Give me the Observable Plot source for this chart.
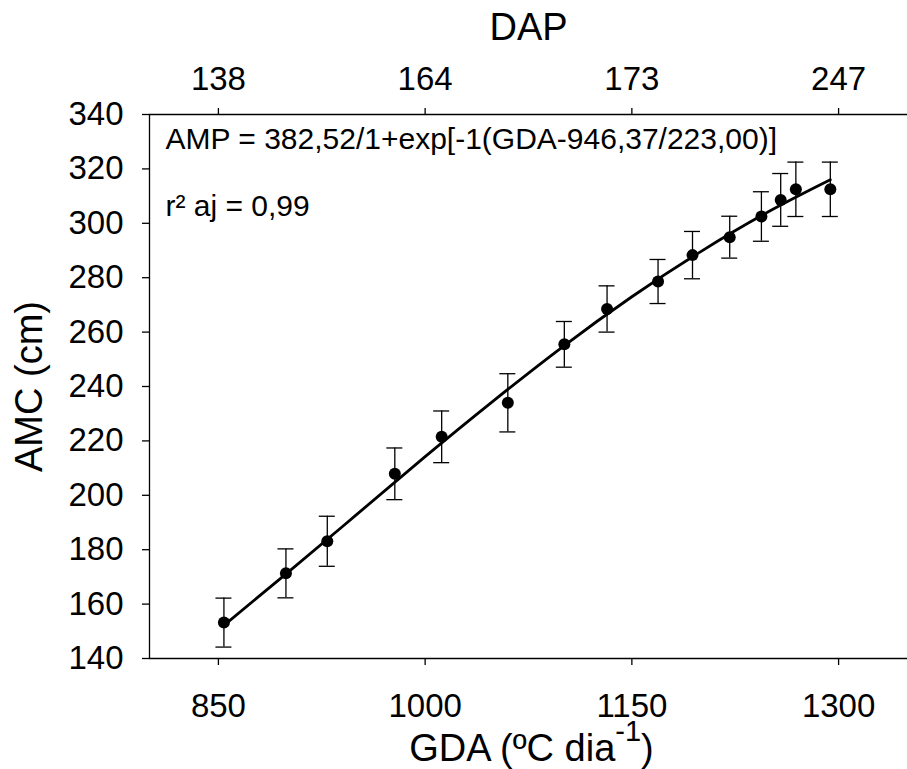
<!DOCTYPE html>
<html>
<head>
<meta charset="utf-8">
<script src="https://cdn.jsdelivr.net/npm/d3@7"></script>
<script src="https://cdn.jsdelivr.net/npm/@observablehq/plot@0.6"></script>
<style>
  html, body { margin: 0; padding: 0; background: #fff; }
</style>
</head>
<body>
<div id="chart"></div>
<script>
// Observed means (GDA, AMC) and error bar half-lengths
const gda = [854, 899, 929, 978, 1012, 1060, 1101, 1132, 1169, 1194, 1221, 1244, 1258, 1269, 1294];
const amc = [153.2, 171.3, 183.1, 207.9, 221.5, 234.0, 255.5, 268.5, 278.6, 288.3, 294.9, 302.5, 308.6, 312.5, 312.5];
const err = [9.0, 9.0, 9.2, 9.5, 9.5, 10.7, 8.4, 8.5, 8.1, 8.7, 7.7, 9.1, 9.7, 10.0, 10.0];

// Fitted curve
const fitGda = [854, 900, 950, 1000, 1050, 1100, 1150, 1200, 1250, 1294];
const fitAmc = [152.2, 171.5, 192.8, 214.2, 234.9, 254.7, 273.0, 289.6, 304.5, 316.0];

// Ticks and labels
const xTicks = [850, 1000, 1150, 1300];
const dapLabels = ["138", "164", "173", "247"];
const yTicks = [140, 160, 180, 200, 220, 240, 260, 280, 300, 320, 340];

const equationText = "AMP = 382,52/1+exp[-1(GDA-946,37/223,00)]";
const r2Text = "r² aj = 0,99";
const xTitle = "GDA (ºC dia-1)";
const yTitle = "AMC (cm)";
const topTitle = "DAP";

const points = gda.map((x, i) => ({x, y: amc[i], lo: amc[i] - err[i], hi: amc[i] + err[i]}));
const fit = fitGda.map((x, i) => ({x, y: fitAmc[i]}));
const dapMap = new Map(xTicks.map((t, i) => [t, dapLabels[i]]));

const font = "'Liberation Sans', Arial, Helvetica, sans-serif";

const chart = Plot.plot({
  width: 907,
  height: 769,
  marginLeft: 149,
  marginRight: 0,
  marginTop: 114,
  marginBottom: 111,
  style: {fontFamily: font, fontSize: "33px", color: "#000", background: "#fff", overflow: "visible"},
  x: {domain: [800, 1350]},
  y: {domain: [140, 340]},
  marks: [
    Plot.axisX({anchor: "bottom", ticks: xTicks, tickSize: 7, tickPadding: 28, tickFormat: d => String(d), fontSize: 33, label: null, strokeWidth: 1.3}),
    Plot.axisX({anchor: "top", ticks: xTicks, tickSize: 7, tickPadding: 18, tickFormat: d => dapMap.get(d), fontSize: 33, label: null, strokeWidth: 1.3}),
    Plot.axisY({anchor: "left", ticks: yTicks, tickSize: 7, tickPadding: 19, tickFormat: d => String(d), fontSize: 33, label: null, strokeWidth: 1.3}),
    Plot.ruleY([140], {strokeWidth: 1.3}),
    Plot.ruleY([340], {strokeWidth: 1.3}),
    Plot.ruleX([800], {strokeWidth: 1.3}),
    Plot.line(fit, {x: "x", y: "y", curve: "natural", strokeWidth: 2.8, stroke: "#000"}),
    Plot.ruleX(points, {x: "x", y1: "lo", y2: "hi", strokeWidth: 1.3, stroke: "#000"}),
    Plot.ruleY(points, {y: "lo", x1: "x", x2: "x", insetLeft: -8, insetRight: -8, strokeWidth: 1.3, stroke: "#000"}),
    Plot.ruleY(points, {y: "hi", x1: "x", x2: "x", insetLeft: -8, insetRight: -8, strokeWidth: 1.3, stroke: "#000"}),
    Plot.dot(points, {x: "x", y: "y", r: 6, fill: "#000", stroke: null}),
    Plot.text([equationText], {frameAnchor: "top-left", textAnchor: "start", lineAnchor: "bottom", dx: 16, dy: 34.6, fontSize: 30, fill: "#000"}),
    Plot.text([r2Text], {frameAnchor: "top-left", textAnchor: "start", lineAnchor: "bottom", dx: 16, dy: 101.3, fontSize: 30, fill: "#000"}),
    Plot.text([topTitle], {frameAnchor: "top", lineAnchor: "bottom", dy: -74.4, fontSize: 38, fill: "#000"}),
    Plot.text([yTitle], {frameAnchor: "left", rotate: -90, lineAnchor: "bottom", textAnchor: "middle", dx: -107.3, fontSize: 38, fill: "#000"}),
    Plot.text([xTitle], {frameAnchor: "bottom", lineAnchor: "bottom", dy: 102.5, dx: 3, fontSize: 38, fill: "#000"})
  ]
});

// Superscript for the x-axis title
d3.select(chart).selectAll("text").filter(function () { return this.textContent === xTitle; }).each(function () {
  const t = d3.select(this);
  t.text(null);
  t.append("tspan").text("GDA (ºC dia");
  t.append("tspan").attr("font-size", 29).attr("dy", -20).text("-1");
  t.append("tspan").attr("dy", 20).text(")");
});

document.getElementById("chart").appendChild(chart);
</script>
</body>
</html>
